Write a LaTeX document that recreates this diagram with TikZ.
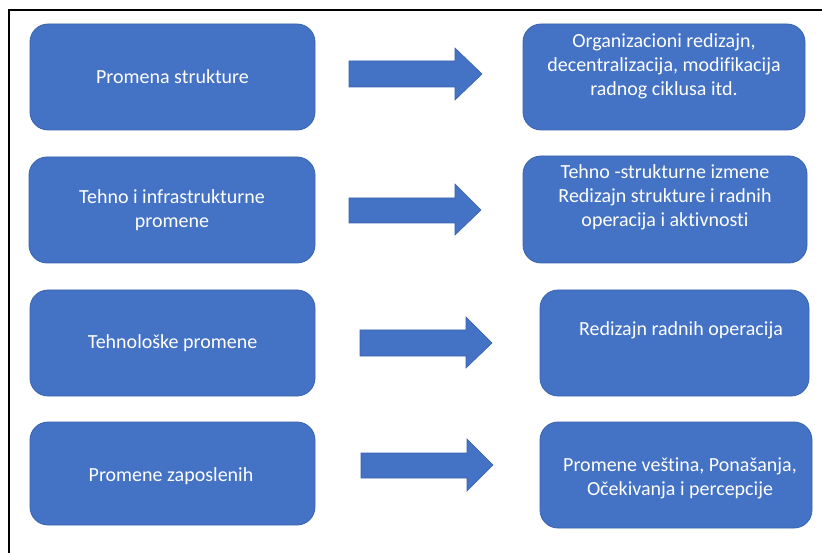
\documentclass[tikz,border=0pt]{standalone}
\usepackage{fontspec}
\setmainfont{Carlito}[Ligatures=NoCommon]
\definecolor{boxblue}{HTML}{4472C4}
\definecolor{boxedge}{HTML}{3A63AD}
\tikzset{
  block/.style={fill=boxblue, draw=boxedge, line width=0.8pt, rounded corners=18pt,
    inner sep=0pt, minimum width=#1},
  block/.default=285pt,
  txt/.style={text=white, align=center, inner sep=0pt,
    font=\fontsize{20}{24}\selectfont},
  fatarrow/.style={fill=boxblue, draw=boxedge, line width=0.6pt},
  frame/.style={line width=2pt, black}
}
\begin{document}
\begin{tikzpicture}[x=1pt,y=-1pt]
\useasboundingbox (0,0) rectangle (822,553);
% outer frame (top and left edges)
\coordinate (fa) at (8.5,553);
\coordinate (fb) at (8.5,10.5);
\coordinate (fc) at (822,10.5);
\draw[frame] (fa) -- (fb) -- (fc);

% left column
\node[block, minimum height=106pt] (l1) at (172.5,77) {};
\node[block=286pt, minimum height=106pt] (l2) at (172,210) {};
\node[block, minimum height=106pt] (l3) at (172.5,343) {};
\node[block, minimum height=103pt] (l4) at (172.5,473.5) {};

% right column
\node[block=282pt, minimum height=106pt] (r1) at (664,77) {};
\node[block=284pt, minimum height=107pt] (r2) at (665,209.5) {};
\node[block=269pt, minimum height=106pt] (r3) at (674.5,343) {};
\node[block=272pt, minimum height=106pt] (r4) at (676,475) {};

% labels
\node[txt] (l1t) at (l1) {Promena strukture};
\node[txt] (l2t) at (172,210) {Tehno i infrastrukturne\\promene};
\node[txt] (l3t) at (l3) {Tehnološke promene};
\node[txt] (l4t) at (171,476) {Promene zaposlenih};
\node[txt] (r1t) at (664,66) {Organizacioni redizajn,\\decentralizacija, modifikacija\\radnog ciklusa itd.};
\node[txt] (r2t) at (665,197.5) {Tehno -strukturne izmene\\Redizajn strukture i radnih\\operacija i aktivnosti};
\node[txt] (r3t) at (681,330) {Redizajn radnih operacija};
\node[txt] (r4t) at (680,478) {Promene veština, Ponašanja,\\Očekivanja i percepcije};

% block arrows between the columns
\draw[fatarrow] (349,61) -- (455,61) -- (455,48) -- (482,74) -- (455,100) -- (455,87) -- (349,87) -- cycle;
\draw[fatarrow] (349,198) -- (455,198) -- (455,184) -- (481,210) -- (455,235) -- (455,223) -- (349,223) -- cycle;
\draw[fatarrow] (360,330) -- (466,330) -- (466,317) -- (492,343) -- (466,368) -- (466,356) -- (360,356) -- cycle;
\draw[fatarrow] (361,453) -- (467,453) -- (467,439) -- (493,465) -- (467,491) -- (467,478) -- (361,478) -- cycle;
\end{tikzpicture}
\end{document}
